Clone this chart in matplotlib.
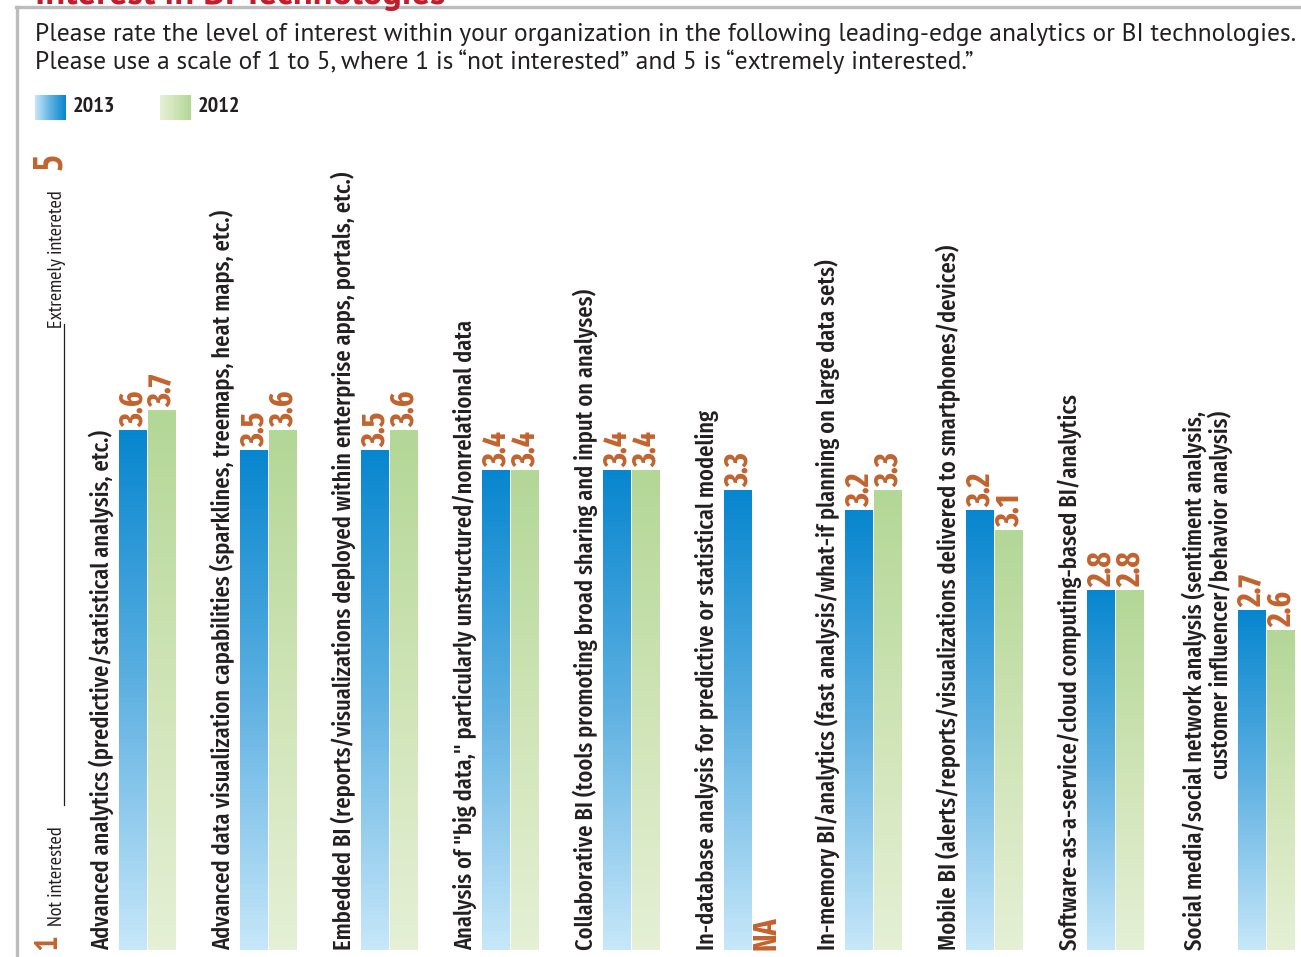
import numpy as np
import matplotlib
matplotlib.use("Agg")
import matplotlib.pyplot as plt
from matplotlib.colors import LinearSegmentedColormap
from matplotlib import font_manager

W, H = 1301, 957

categories = [
    "Advanced analytics (predictive/statistical analysis, etc.)",
    "Advanced data visualization capabilities (sparklines, treemaps, heat maps, etc.)",
    "Embedded BI (reports/visualizations deployed within enterprise apps, portals, etc.)",
    "Analysis of \"big data,\" particularly unstructured/nonrelational data",
    "Collaborative BI (tools promoting broad sharing and input on analyses)",
    "In-database analysis for predictive or statistical modeling",
    "In-memory BI/analytics (fast analysis/what-if planning on large data sets)",
    "Mobile BI (alerts/reports/visualizations delivered to smartphones/devices)",
    "Software-as-a-service/cloud computing-based BI/analytics",
    "Social media/social network analysis (sentiment analysis,\ncustomer influencer/behavior analysis)",
]
vals_2013 = [3.6, 3.5, 3.5, 3.4, 3.4, 3.3, 3.2, 3.2, 2.8, 2.7]
vals_2012 = [3.7, 3.6, 3.6, 3.4, 3.4, None, 3.3, 3.1, 2.8, 2.6]
series_names = ["2013", "2012"]

title = "Interest in BI Technologies"
subtitle = ("Please rate the level of interest within your organization in the following "
            "leading-edge analytics or BI technologies.\n"
            "Please use a scale of 1 to 5, where 1 is \u201cnot interested\u201d and 5 is "
            "\u201cextremely interested.\u201d")

names = {f.name for f in font_manager.fontManager.ttflist}


def pick(*fams):
    for f in fams:
        if f in names:
            return f
    return "DejaVu Sans"


REG = pick("PT Sans", "Open Sans")
LAB = pick("Fira Sans Extra Condensed", "Fira Sans Condensed", "PT Sans Narrow")
NUM = pick("PT Sans Narrow", "Fira Sans Condensed", "Roboto Condensed")

ORANGE = "#c2632e"
DARK = "#231f20"
blue_cm = LinearSegmentedColormap.from_list("b", ["#c6e7f9", "#5fb1e2", "#0786cf"])
green_cm = LinearSegmentedColormap.from_list("g", ["#e5f0d6", "#cfe4b6", "#b3d796"])

fig = plt.figure(figsize=(W / 100, H / 100), dpi=100)
renderer = fig.canvas.get_renderer()
ax = fig.add_axes([0, 0, 1, 1])
# value v sits at pixel row 950 - (v - 1) * 200
ax.set_xlim(0, W)
ax.set_ylim(1 - 7 / 200, 5 + 150 / 200)
ax.axis("off")


def fx(px):
    return px / W


def fy(py):
    return 1 - py / H


def fit(t, target, vertical=False):
    # scale a text's size so its long side spans `target` pixels
    for _ in range(3):
        bb = t.get_window_extent(renderer)
        cur = bb.height if vertical else bb.width
        t.set_fontsize(t.get_fontsize() * target / cur)


# frame and cut-off title
fig.add_artist(plt.Line2D([fx(16), 1], [fy(7), fy(7)], color="#bcbcbc", lw=2.4))
fig.add_artist(plt.Line2D([fx(17), fx(17)], [fy(7), 0], color="#bcbcbc", lw=2.4))
t = fig.text(fx(35), fy(4), title, color="#c01d2e", fontsize=23, fontweight="bold",
             family=REG, va="baseline", ha="left")
fit(t, 410)
t1, t2 = subtitle.split("\n")
s1 = fig.text(fx(35), fy(34), t1, color=DARK, fontsize=17, family=REG,
              va="center", ha="left")
fit(s1, 1260)
fig.text(fx(35), fy(62), t2, color=DARK, fontsize=s1.get_fontsize(), family=REG,
         va="center", ha="left")

# legend
grad = np.linspace(0, 1, 64).reshape(1, -1)
for i, (name, cm) in enumerate(zip(series_names, [blue_cm, green_cm])):
    x0 = 35 + i * 125
    lax = fig.add_axes([fx(x0), fy(120), fx(31), 25 / H])
    lax.imshow(grad, cmap=cm, aspect="auto")
    lax.axis("off")
    fig.text(fx(x0 + 38), fy(107), name, color=DARK, fontsize=16, fontweight="bold",
             family=NUM, va="center", ha="left")

# left scale
ax.text(48, 1.0, "1", rotation=90, fontsize=24, fontweight="bold", family=NUM,
        color=ORANGE, ha="center", va="bottom")
ax.text(57, 1.12, "Not interested", rotation=90, fontsize=14.5, family=NUM,
        color=DARK, ha="center", va="bottom")
ax.plot([64, 64], [1.725, 4.13], color=DARK, lw=0.9)
ax.text(57, 4.8, "Extremely intereted", rotation=90, fontsize=14.5, family=NUM,
        color=DARK, ha="center", va="top")
ax.text(50, 4.998, "5", rotation=90, fontsize=29, fontweight="bold", family=NUM,
        color=ORANGE, ha="center", va="top")

# bar positions: one slot per group, wider for two-line labels
bw, pair = 28, 29
lefts = []
pos = 119
for lab in categories:
    pos += 30 * lab.count("\n")
    lefts.append(pos)
    pos += 121
lefts = np.array(lefts, dtype=float)

grad_v = np.linspace(1, 0, 128).reshape(-1, 1)
for vals, off, cm in [(vals_2013, 0, blue_cm), (vals_2012, pair, green_cm)]:
    xs = lefts + off
    heights = [0 if v is None else v - 1 for v in vals]
    bars = ax.bar(xs, heights, width=bw, bottom=1, align="edge",
                  color="none", edgecolor="none")
    for rect, v in zip(bars, vals):
        cx = rect.get_x() + rect.get_width() / 2
        if v is None:
            ax.text(cx, 1.0, "NA", rotation=90, fontsize=23, fontweight="bold",
                    family=LAB, color=ORANGE, ha="center", va="bottom")
            continue
        x0, y0 = rect.get_x(), rect.get_y()
        im = ax.imshow(grad_v, cmap=cm, aspect="auto",
                       extent=[x0, x0 + rect.get_width(), y0, y0 + rect.get_height()])
        im.set_clip_path(rect)
        ax.text(cx + 1, v + 0.015, f"{v:.1f}", rotation=90, fontsize=23,
                fontweight="bold", family=LAB, color=ORANGE, ha="center", va="bottom")

labels = []
for x, lab in zip(lefts, categories):
    labels.append(ax.text(x - 5, 1.0, lab, rotation=90, fontsize=16, family=LAB,
                          fontweight="medium", color=DARK, ha="right", va="bottom",
                          linespacing=1.0))
fit(labels[0], 522, vertical=True)
for lt in labels[1:]:
    lt.set_fontsize(labels[0].get_fontsize())

ax.set_xlim(0, W)
ax.set_ylim(1 - 7 / 200, 5 + 150 / 200)
fig.savefig("out.png", dpi=100)
